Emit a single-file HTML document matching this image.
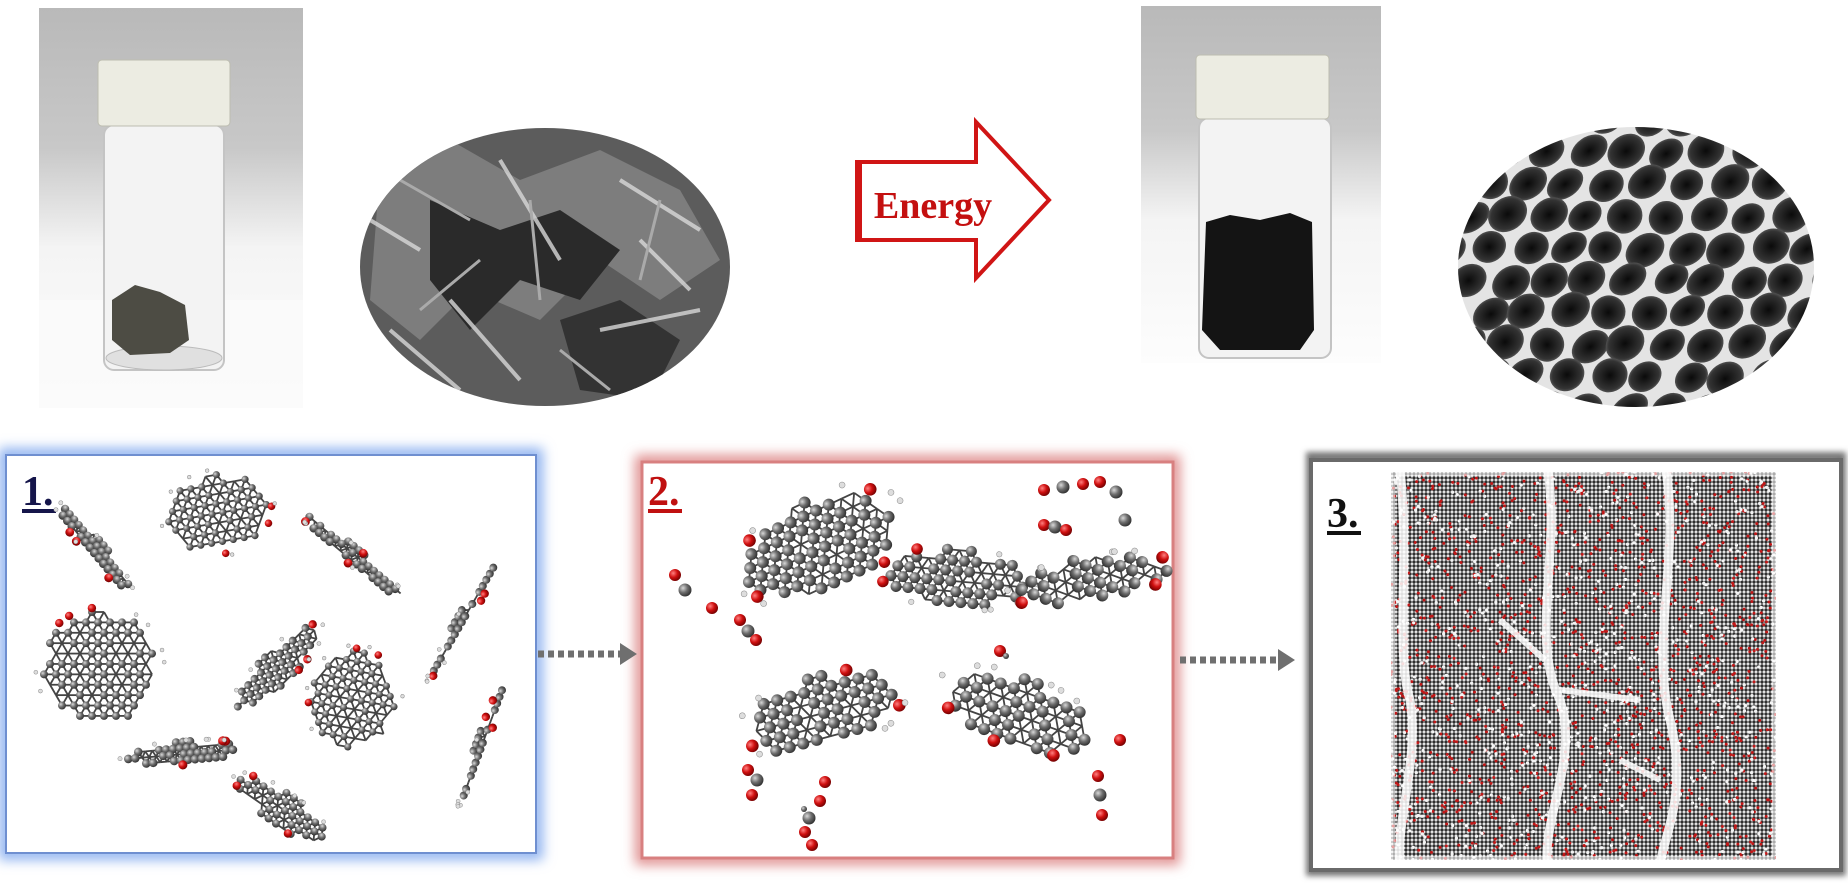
<!DOCTYPE html>
<html><head><meta charset="utf-8"><style>
html,body{margin:0;padding:0;background:#fff;}
svg{display:block;}
</style></head><body>
<svg id="s" width="1848" height="886" viewBox="0 0 1848 886" xmlns="http://www.w3.org/2000/svg">
<defs>
<linearGradient id="bg1" x1="0" y1="0" x2="0" y2="1">
<stop offset="0" stop-color="#b9b9b9"/><stop offset="0.35" stop-color="#c8c8c8"/><stop offset="0.6" stop-color="#f4f4f4"/><stop offset="1" stop-color="#fdfdfd"/></linearGradient>
<radialGradient id="atom" cx="0.35" cy="0.35" r="0.7"><stop offset="0" stop-color="#d8d8d8"/><stop offset="0.5" stop-color="#6d6d6d"/><stop offset="1" stop-color="#2e2e2e"/></radialGradient>
<radialGradient id="ox" cx="0.35" cy="0.35" r="0.7"><stop offset="0" stop-color="#ff8080"/><stop offset="0.5" stop-color="#d01010"/><stop offset="1" stop-color="#700000"/></radialGradient>
<radialGradient id="cell" cx="0.5" cy="0.5" r="0.6"><stop offset="0" stop-color="#0a0a0a"/><stop offset="0.7" stop-color="#333"/><stop offset="1" stop-color="#777"/></radialGradient>
<filter id="gb" x="-10%" y="-10%" width="120%" height="120%"><feGaussianBlur stdDeviation="6"/></filter>
<filter id="gs" x="-10%" y="-10%" width="120%" height="120%"><feGaussianBlur stdDeviation="3"/></filter>
<pattern id="dots" width="4" height="4" patternUnits="userSpaceOnUse"><circle cx="2" cy="2" r="1.7" fill="#2e2e2e"/></pattern>
<clipPath id="c1"><ellipse cx="545" cy="267" rx="185" ry="139"/></clipPath>
<clipPath id="c2"><ellipse cx="1636" cy="267" rx="178" ry="140"/></clipPath>
<clipPath id="c3"><rect x="1391" y="472" width="385" height="388"/></clipPath>
</defs>

<rect x="39" y="8" width="264" height="400" fill="url(#bg1)"/>
<rect x="39" y="300" width="264" height="108" fill="#fafafa" opacity="0.8"/>
<rect x="104" y="125" width="120" height="245" rx="10" fill="#f3f3f3" stroke="#c4c4c4" stroke-width="2"/>
<ellipse cx="164" cy="358" rx="58" ry="12" fill="#e0e0e0" stroke="#bbb"/>
<rect x="98" y="60" width="132" height="66" rx="4" fill="#ecece2" stroke="#bdbdb0"/>
<path d="M112 300 L135 285 L160 292 L185 305 L189 340 L170 353 L130 355 L112 340 Z" fill="#4d4c44"/>
<g clip-path="url(#c1)">
<rect x="355" y="120" width="380" height="295" fill="#5c5c5c"/>
<path d="M380 170 L450 140 L520 180 L600 150 L680 190 L720 260 L660 300 L600 260 L540 320 L470 290 L420 340 L370 300 Z" fill="#7d7d7d"/>
<path d="M430 200 L500 230 L560 210 L620 250 L580 300 L520 280 L470 330 L430 280 Z" fill="#2a2a2a"/>
<path d="M560 320 L620 300 L680 340 L650 400 L580 390 Z" fill="#333"/>
<path d="M370 220 L420 250 M500 160 L560 260 M620 180 L700 230 M450 300 L520 380 M600 330 L700 310 M390 330 L460 390 M640 240 L690 290" stroke="#d8d8d8" stroke-width="4" fill="none" opacity="0.8"/>
<path d="M400 180 L470 220 M530 200 L540 300 M660 200 L640 280 M480 260 L420 310 M560 350 L610 390" stroke="#aaa" stroke-width="3" fill="none"/>
</g>
<polygon points="857,162 976,162 976,122 1049,200 976,278 976,240 857,240" fill="#fff" stroke="#d01515" stroke-width="4"/>
<line x1="859" y1="164" x2="859" y2="238" stroke="#d01515" stroke-width="6"/>
<text x="933" y="218" text-anchor="middle" font-family="Liberation Serif, serif" font-weight="bold" font-size="38" fill="#c41010">Energy</text>
<rect x="1141" y="6" width="240" height="357" fill="url(#bg1)"/>
<rect x="1199" y="118" width="132" height="240" rx="10" fill="#f3f3f3" stroke="#c4c4c4" stroke-width="2"/>
<rect x="1196" y="55" width="133" height="64" rx="4" fill="#ecece2" stroke="#bdbdb0"/>
<path d="M1206 222 L1230 215 L1260 220 L1290 213 L1312 222 L1314 330 L1300 350 L1220 350 L1202 330 Z" fill="#141414"/>
<g clip-path="url(#c2)" id="sem2">
<rect x="1450" y="120" width="375" height="295" fill="#e4e4e4"/>
</g>

<rect x="6" y="455" width="530" height="398" fill="none" stroke="#8fb2f0" stroke-width="14" filter="url(#gb)"/>
<rect x="6" y="455" width="530" height="398" fill="#fff" stroke="#6f8fd0" stroke-width="2"/>
<text x="22" y="505" font-family="Liberation Serif, serif" font-weight="bold" font-size="42" fill="#15154a">1.</text>
<rect x="22" y="509" width="34" height="4" fill="#15154a"/>
<rect x="642" y="462" width="531" height="396" fill="none" stroke="#e09090" stroke-width="14" filter="url(#gb)"/>
<rect x="642" y="462" width="531" height="396" fill="#fff" stroke="#d88080" stroke-width="3"/>
<text x="648" y="505" font-family="Liberation Serif, serif" font-weight="bold" font-size="42" fill="#c01010">2.</text>
<rect x="648" y="509" width="34" height="4" fill="#c01010"/>
<rect x="1311" y="457" width="530" height="414" fill="none" stroke="#777" stroke-width="10" filter="url(#gs)"/>
<rect x="1311" y="460" width="530" height="410" fill="#fff" stroke="#6a6a6a" stroke-width="4"/>
<g clip-path="url(#c3)" id="b3">
<rect x="1391" y="472" width="385" height="388" fill="url(#dots)"/>
</g>
<text x="1327" y="527" font-family="Liberation Serif, serif" font-weight="bold" font-size="42" fill="#111">3.</text>
<rect x="1327" y="531" width="34" height="4" fill="#111"/>

<line x1="538" y1="654" x2="622" y2="654" stroke="#6f6f6f" stroke-width="7" stroke-dasharray="6,4"/>
<polygon points="620,643 637,654 620,665" fill="#6f6f6f"/>
<line x1="1180" y1="660" x2="1280" y2="660" stroke="#6f6f6f" stroke-width="7" stroke-dasharray="6,4"/>
<polygon points="1278,649 1295,660 1278,671" fill="#6f6f6f"/>
<g id="mol"></g>
</svg>
<script>
(function(){
var NS="http://www.w3.org/2000/svg";
var mol=document.getElementById("mol");
var seed=7;function rnd(){seed=(seed*16807)%2147483647;return seed/2147483647;}
function el(p,t,a){var e=document.createElementNS(NS,t);for(var k in a)e.setAttribute(k,a[k]);p.appendChild(e);return e;}
function sheet(cx,cy,a,b,rot,r,step){
 var g=el(mol,"g",{transform:"translate("+cx+","+cy+") rotate("+rot+")"});
 var pts=[];
 for(var y=-b;y<=b;y+=step*0.866){for(var x=-a;x<=a;x+=step){var xx=x+((Math.round((y+b)/(step*0.866))%2)?step/2:0);
  if((xx*xx)/(a*a)+(y*y)/(b*b)<=1.05)pts.push([xx,y]);}}
 pts.forEach(function(p){pts.forEach(function(q){var d=Math.hypot(p[0]-q[0],p[1]-q[1]);if(d>0&&d<step*1.05&&p[0]<q[0]+0.01)el(g,"line",{x1:p[0],y1:p[1],x2:q[0],y2:q[1],stroke:"#444","stroke-width":1.8});});});
 pts.forEach(function(p){ if(rnd()<0.2) return; el(g,"circle",{cx:p[0],cy:p[1],r:r,fill:"url(#atom)"});});
 for(var i=0;i<3;i++){var ang=rnd()*6.28;el(g,"circle",{cx:Math.cos(ang)*a*1.08,cy:Math.sin(ang)*b*1.08,r:r*1.05,fill:"url(#ox)"});}
 for(var i=0;i<6;i++){var ang=rnd()*6.28;el(g,"circle",{cx:Math.cos(ang)*a*1.15,cy:Math.sin(ang)*b*1.15,r:r*0.5,fill:"#ddd",stroke:"#888","stroke-width":0.5});}
}
sheet(94,548,52,9,50,4.2,7);
sheet(218,513,50,38,-10,3.6,11);
sheet(353,556,62,8,40,4.2,7);
sheet(463,620,62,6,-60,4,7);
sheet(100,667,56,55,0,4,12);
sheet(277,668,55,16,-45,4,9);
sheet(354,700,42,48,10,3.6,11);
sheet(183,753,55,11,-5,4.3,7);
sheet(482,742,60,5,-70,4,7);
sheet(283,810,52,16,35,4,9);
sheet(820,545,80,45,-25,6,14);
sheet(955,578,70,28,5,5.5,12);
sheet(1092,580,22,75,80,6,13);
sheet(822,713,75,36,-15,6,14);
sheet(1018,712,75,33,20,6,14);
function o(x,y,r){el(mol,"circle",{cx:x,cy:y,r:r||6,fill:"url(#ox)"});}
function c(x,y,r){el(mol,"circle",{cx:x,cy:y,r:r||6.5,fill:"url(#atom)"});}
o(1044,490);c(1063,487);o(1083,484);o(1100,482);c(1116,492);c(1125,520);
o(1044,525);c(1055,527);o(1066,530);
o(740,620);c(748,631);o(756,640);
o(1000,651);c(1006,656,3);
o(748,770);c(757,780);o(752,795);o(825,782);o(820,801);c(804,809,3);
o(805,832);c(809,818);o(812,845);
o(1098,776);c(1100,795);o(1102,815);o(1120,740);
o(675,575);c(685,590);o(712,608);
var b3=document.getElementById("b3");
for(var i=0;i<1400;i++){el(b3,"circle",{cx:1391+rnd()*385,cy:472+rnd()*388,r:1.5,fill:"#c01818"});}
for(var i=0;i<700;i++){el(b3,"circle",{cx:1391+rnd()*385,cy:472+rnd()*388,r:1.6,fill:"#f4f4f4"});}
var gaps=["M1548 470 C1560 560 1530 640 1560 700 C1580 760 1540 820 1548 870","M1666 470 C1680 560 1650 640 1670 720 C1690 800 1660 840 1660 870","M1400 470 C1410 560 1395 650 1410 700 C1420 760 1395 820 1400 870","M1560 690 L1640 700","M1500 620 L1545 660","M1620 760 L1660 780"];
gaps.forEach(function(d,i){el(b3,"path",{d:d,stroke:"#fff","stroke-width":i<3?9:6,fill:"none",opacity:0.85});});
el(b3,"rect",{x:1391,y:472,width:385,height:388,fill:"none",stroke:"#fff","stroke-width":8,opacity:0.6});
var s2=document.getElementById("sem2");
for(var row=0;row<10;row++){for(var col=0;col<10;col++){
 var x=1448+col*40+(row%2)*20+(rnd()-0.5)*8, y=120+row*32+(rnd()-0.5)*6;
 var w=34+rnd()*8,h=26+rnd()*8;
 el(s2,"ellipse",{cx:x,cy:y,rx:w/2,ry:h/2,fill:"url(#cell)",transform:"rotate(-35 "+x+" "+y+")"});
}}
})();
</script>
</body></html>
